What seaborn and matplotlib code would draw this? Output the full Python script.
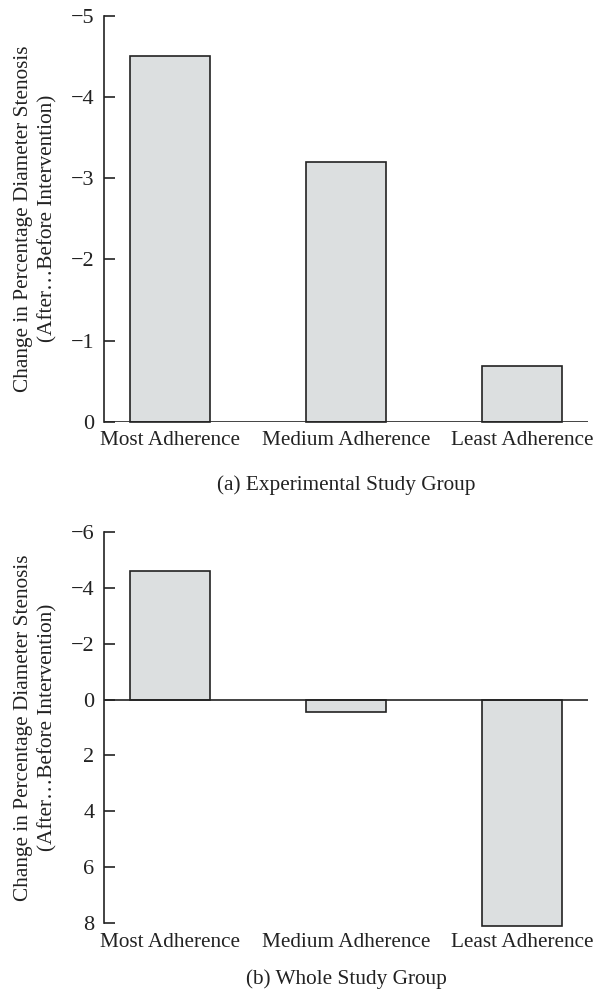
import matplotlib
matplotlib.use("Agg")
import matplotlib.pyplot as plt
import seaborn as sns
import pandas as pd

# Adherence groups and mean change in percentage diameter stenosis
categories = ["Most Adherence", "Medium Adherence", "Least Adherence"]
experimental_change = [-4.5, -3.2, -0.68]
whole_change = [-4.6, 0.45, 8.08]

exp_ticks = [0, -1, -2, -3, -4, -5]
whole_ticks = [-6, -4, -2, 0, 2, 4, 6, 8]

ylabel = "Change in Percentage Diameter Stenosis\n(After\u2026Before Intervention)"
captions = ["(a) Experimental Study Group", "(b) Whole Study Group"]

sns.set_theme(style="white")
plt.rcParams["font.family"] = ["Liberation Serif", "DejaVu Serif"]
plt.rcParams["text.color"] = "#222222"
plt.rcParams["axes.labelcolor"] = "#222222"
plt.rcParams["xtick.color"] = "#222222"
plt.rcParams["ytick.color"] = "#222222"

fig = plt.figure(figsize=(5.95, 9.89), dpi=100)
ax_top = fig.add_axes([0.1748, 0.5736, 0.8134, 0.4105])
ax_bot = fig.add_axes([0.1748, 0.0664, 0.8134, 0.3960])

panels = [
    (ax_top, experimental_change, exp_ticks, (0, -5), captions[0], 18),
    (ax_bot, whole_change, whole_ticks, (8, -6), captions[1], 12.5),
]

fill = "#dcdfe0"
edge = "#222222"
fs = 15.3
tick_fs = 16

for ax, vals, ticks, ylim, cap, cap_pad in panels:
    df = pd.DataFrame({"group": categories, "change": vals})
    sns.barplot(data=df, x="group", y="change", order=categories, ax=ax,
                color=fill, saturation=1, edgecolor=edge, linewidth=1.2,
                width=0.4545, errorbar=None)
    for p in ax.patches:
        p.set_clip_on(False)
    ax.set_xlim(-0.375, 2.375)
    ax.set_ylim(*ylim)
    ax.set_yticks(ticks)
    ax.set_yticklabels([f"{t}".replace("-", "\u2212") for t in ticks], fontsize=tick_fs)
    ax.tick_params(axis="y", direction="in", length=8, width=1.2, pad=7, left=True)
    ax.tick_params(axis="x", length=0, pad=7, labelsize=fs)
    for s in ["top", "right", "bottom"]:
        ax.spines[s].set_visible(False)
    ax.spines["left"].set_linewidth(1.2)
    ax.spines["left"].set_color(edge)
    ax.axhline(0, color=edge, linewidth=1.2, zorder=3)
    ax.set_xlabel(cap, fontsize=fs, labelpad=cap_pad)
    ax.set_ylabel(ylabel, fontsize=fs, linespacing=1.3)
    ax.yaxis.set_label_coords(-0.097, 0.5)
    ax.set_facecolor("white")

fig.savefig("out.png", dpi=100, facecolor="white")
